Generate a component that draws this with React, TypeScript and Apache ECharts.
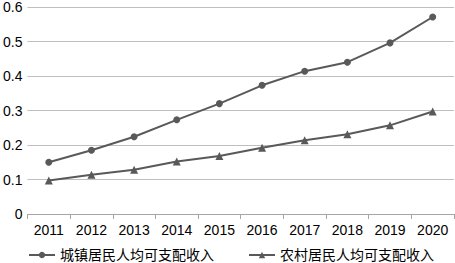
import React, { useEffect, useRef } from "react";
import * as echarts from "echarts";

const years = ["2011", "2012", "2013", "2014", "2015", "2016", "2017", "2018", "2019", "2020"];
const urban = [0.15, 0.185, 0.224, 0.273, 0.32, 0.373, 0.414, 0.44, 0.496, 0.571];
const rural = [0.097, 0.114, 0.128, 0.152, 0.168, 0.192, 0.214, 0.231, 0.257, 0.297];
const seriesNames = ["城镇居民人均可支配收入", "农村居民人均可支配收入"];

export default function App() {
  const ref = useRef<HTMLDivElement>(null);
  useEffect(() => {
    const chart = echarts.init(ref.current!, null, { renderer: "svg" });
    const font = "'Liberation Sans', Arial, 'Noto Sans CJK SC', sans-serif";
    chart.setOption({
      animation: false,
      textStyle: { fontFamily: font },
      grid: { left: 24, right: 1, top: 6, bottom: 49 },
      legend: {
        top: 248,
        left: 28,
        itemWidth: 26,
        itemHeight: 8,
        itemGap: 34,
        padding: 0,
        textStyle: { fontSize: 14, lineHeight: 14, color: "#000", fontFamily: font },
        data: seriesNames,
      },
      xAxis: {
        type: "category",
        data: years,
        boundaryGap: true,
        axisLine: { lineStyle: { color: "#a6a6a6" } },
        axisTick: { show: true, lineStyle: { color: "#a6a6a6" }, length: 5 },
        axisLabel: { color: "#000", fontSize: 14, margin: 9 },
      },
      yAxis: {
        type: "value",
        min: 0,
        max: 0.6,
        interval: 0.1,
        axisLine: { show: false },
        axisTick: { show: false },
        axisLabel: { color: "#000", fontSize: 14, margin: 5, formatter: (v: number) => (v === 0 ? "0" : v.toFixed(1)) },
        splitLine: { lineStyle: { color: "#bfbfbf", width: 1 } },
      },
      series: [
        {
          name: seriesNames[0],
          type: "line",
          data: urban,
          symbol: "circle",
          symbolSize: 7,
          lineStyle: { color: "#595959", width: 2 },
          itemStyle: { color: "#595959" },
        },
        {
          name: seriesNames[1],
          type: "line",
          data: rural,
          symbol: "triangle",
          symbolSize: 8,
          lineStyle: { color: "#595959", width: 2 },
          itemStyle: { color: "#595959" },
        },
      ],
    });
    return () => chart.dispose();
  }, []);
  return <div ref={ref} style={{ width: 455, height: 263, position: "absolute", left: 0, top: 0 }} />;
}
